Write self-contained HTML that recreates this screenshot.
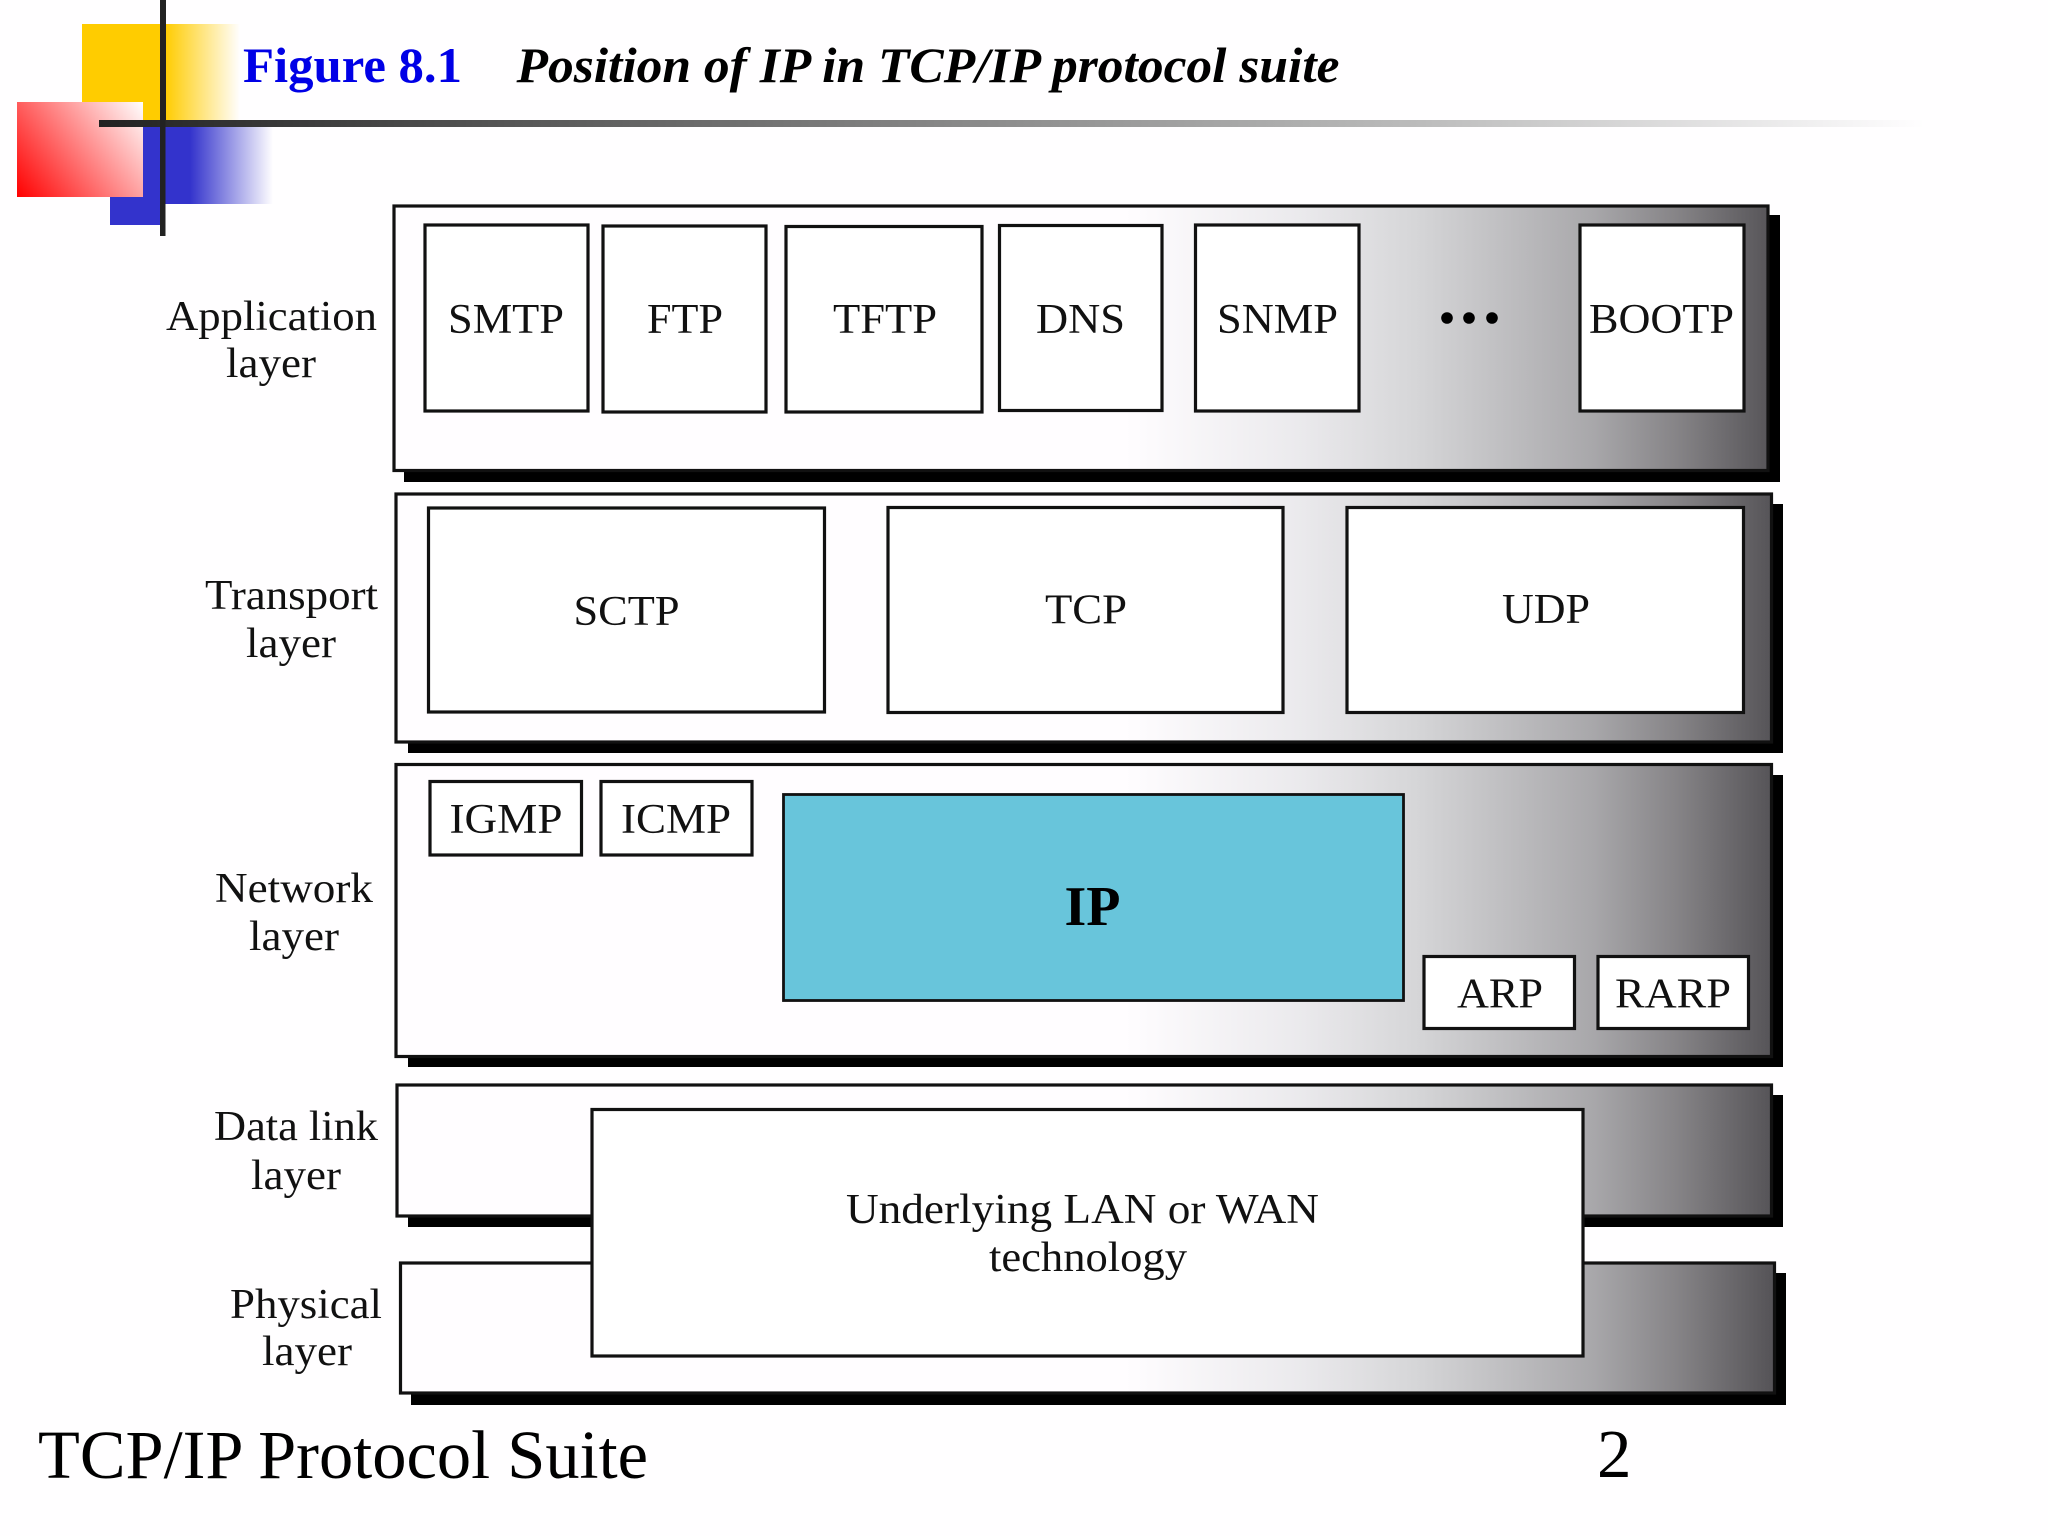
<!DOCTYPE html>
<html><head><meta charset="utf-8"><title>Figure 8.1</title>
<style>
html,body{margin:0;padding:0;background:#fffeff;width:2048px;height:1536px;overflow:hidden}
svg{display:block}
text{font-family:"Liberation Serif",serif;font-size:42px;fill:#111}
.b{fill:#fff;stroke:#111;stroke-width:3.2}
.l{fill:url(#g);stroke:#111;stroke-width:3.2}
</style></head><body>
<svg width="2048" height="1536" viewBox="0 0 2048 1536" xmlns="http://www.w3.org/2000/svg">
<defs>
<linearGradient id="g" gradientUnits="userSpaceOnUse" x1="395" y1="0" x2="1773" y2="0">
<stop offset="0.53" stop-color="#fffdff"/><stop offset="0.655" stop-color="#ebeaed"/><stop offset="0.74" stop-color="#d6d6d8"/><stop offset="0.87" stop-color="#a8a7aa"/><stop offset="0.93" stop-color="#868487"/><stop offset="1" stop-color="#555357"/>
</linearGradient>
<linearGradient id="y" gradientUnits="userSpaceOnUse" x1="165" y1="0" x2="240" y2="0"><stop offset="0" stop-color="#ffcc00"/><stop offset="1" stop-color="#fffeff"/></linearGradient>
<linearGradient id="bl" gradientUnits="userSpaceOnUse" x1="190" y1="0" x2="273" y2="0"><stop offset="0" stop-color="#3333cc"/><stop offset="1" stop-color="#fffeff"/></linearGradient>
<linearGradient id="r" gradientUnits="userSpaceOnUse" x1="17" y1="197" x2="143" y2="102"><stop offset="0" stop-color="#ff0000"/><stop offset="1" stop-color="#ffffff"/></linearGradient>
<linearGradient id="h" gradientUnits="userSpaceOnUse" x1="99" y1="0" x2="1925" y2="0"><stop offset="0" stop-color="#222"/><stop offset="0.22" stop-color="#555"/><stop offset="0.47" stop-color="#888"/><stop offset="0.72" stop-color="#bbb"/><stop offset="1" stop-color="#fffeff"/></linearGradient>
</defs>

<!-- decoration -->
<rect x="82" y="24" width="83" height="100" fill="#ffcc00"/>
<rect x="165" y="24" width="75" height="96" fill="url(#y)"/>
<rect x="110" y="125" width="52" height="100" fill="#3333cc"/>
<rect x="160" y="125" width="113" height="79" fill="url(#bl)"/>
<rect x="17" y="102" width="126" height="95" fill="url(#r)"/>
<rect x="99" y="120" width="1826" height="7" fill="url(#h)"/>
<rect x="160" y="0" width="6" height="120" fill="#222"/>
<rect x="160" y="120" width="5.5" height="116" fill="#222"/>

<text x="243" y="82" font-weight="bold" textLength="219" lengthAdjust="spacingAndGlyphs" style="font-size:50px;fill:#0000e6">Figure 8.1</text>
<text x="516.5" y="82" font-weight="bold" font-style="italic" textLength="823" lengthAdjust="spacingAndGlyphs" style="font-size:50px;fill:#000">Position of IP in TCP/IP protocol suite</text>

<!-- shadows -->
<rect x="404" y="215" width="1376" height="267" fill="#000"/>
<rect x="408" y="504" width="1375" height="249" fill="#000"/>
<rect x="408" y="775" width="1375" height="292" fill="#000"/>
<rect x="408" y="1095" width="1375" height="132" fill="#000"/>
<rect x="411" y="1273" width="1375" height="132" fill="#000"/>

<!-- layers -->
<rect class="l" x="394" y="206" width="1374" height="264.5"/>
<rect class="l" x="396" y="494" width="1375.5" height="248"/>
<rect class="l" x="396" y="764.5" width="1375.5" height="292"/>
<rect class="l" x="397" y="1085" width="1374.5" height="131"/>
<rect class="l" x="400.5" y="1263" width="1374" height="130"/>

<!-- application -->
<rect class="b" x="425" y="225" width="163" height="186"/>
<rect class="b" x="603" y="226" width="163" height="186"/>
<rect class="b" x="786" y="226.5" width="196" height="185.5"/>
<rect class="b" x="999.5" y="225.5" width="162.5" height="185"/>
<rect class="b" x="1195.5" y="225" width="163.5" height="186"/>
<rect class="b" x="1580" y="225" width="164" height="186"/>
<circle cx="1447" cy="318" r="5.8" fill="#000"/><circle cx="1469" cy="318" r="5.8" fill="#000"/><circle cx="1492" cy="318" r="5.8" fill="#000"/>
<text x="448" y="333" textLength="116" lengthAdjust="spacingAndGlyphs">SMTP</text>
<text x="647" y="333" textLength="76" lengthAdjust="spacingAndGlyphs">FTP</text>
<text x="833" y="333" textLength="104" lengthAdjust="spacingAndGlyphs">TFTP</text>
<text x="1036" y="333" textLength="89" lengthAdjust="spacingAndGlyphs">DNS</text>
<text x="1217" y="333" textLength="121" lengthAdjust="spacingAndGlyphs">SNMP</text>
<text x="1589" y="333" textLength="145" lengthAdjust="spacingAndGlyphs">BOOTP</text>

<!-- transport -->
<rect class="b" x="428.5" y="508" width="396" height="204"/>
<rect class="b" x="888" y="507.5" width="395" height="205"/>
<rect class="b" x="1347" y="507.5" width="396.5" height="205"/>
<text x="573.5" y="625" textLength="106" lengthAdjust="spacingAndGlyphs">SCTP</text>
<text x="1045" y="623.5" textLength="82" lengthAdjust="spacingAndGlyphs">TCP</text>
<text x="1502" y="623" textLength="88" lengthAdjust="spacingAndGlyphs">UDP</text>

<!-- network -->
<rect class="b" x="430" y="781.5" width="151.5" height="73.5"/>
<rect class="b" x="601" y="781.5" width="151" height="73.5"/>
<rect x="783.5" y="794.5" width="620" height="206" fill="#68c5db" stroke="#111" stroke-width="2.8"/>
<rect class="b" x="1424" y="956.5" width="150.5" height="72"/>
<rect class="b" x="1598" y="956.5" width="150.5" height="72"/>
<text x="449.5" y="833" textLength="113" lengthAdjust="spacingAndGlyphs">IGMP</text>
<text x="621" y="833" textLength="110" lengthAdjust="spacingAndGlyphs">ICMP</text>
<text x="1064.5" y="925" font-weight="bold" textLength="56" lengthAdjust="spacingAndGlyphs" style="font-size:56px;fill:#000">IP</text>
<text x="1457" y="1007.5" textLength="86" lengthAdjust="spacingAndGlyphs">ARP</text>
<text x="1615" y="1007.5" textLength="116" lengthAdjust="spacingAndGlyphs">RARP</text>

<!-- underlying -->
<rect class="b" x="592" y="1109.5" width="991" height="246.5"/>
<text x="846" y="1223" textLength="473" lengthAdjust="spacingAndGlyphs">Underlying LAN or WAN</text>
<text x="989" y="1271" textLength="198" lengthAdjust="spacingAndGlyphs">technology</text>

<!-- layer labels -->
<text x="166" y="330" textLength="211" lengthAdjust="spacingAndGlyphs">Application</text>
<text x="226" y="377" textLength="90" lengthAdjust="spacingAndGlyphs">layer</text>
<text x="205" y="609" textLength="173" lengthAdjust="spacingAndGlyphs">Transport</text>
<text x="246" y="657" textLength="90" lengthAdjust="spacingAndGlyphs">layer</text>
<text x="215" y="902" textLength="158" lengthAdjust="spacingAndGlyphs">Network</text>
<text x="249" y="950" textLength="90" lengthAdjust="spacingAndGlyphs">layer</text>
<text x="214" y="1140" textLength="164" lengthAdjust="spacingAndGlyphs">Data link</text>
<text x="251" y="1189" textLength="90" lengthAdjust="spacingAndGlyphs">layer</text>
<text x="230" y="1318" textLength="152" lengthAdjust="spacingAndGlyphs">Physical</text>
<text x="262" y="1365" textLength="90" lengthAdjust="spacingAndGlyphs">layer</text>

<!-- footer -->
<text x="38" y="1478" textLength="610" lengthAdjust="spacingAndGlyphs" style="font-size:69px;fill:#000">TCP/IP Protocol Suite</text>
<text x="1597" y="1477" style="font-size:69px;fill:#000">2</text>
</svg>
</body></html>
